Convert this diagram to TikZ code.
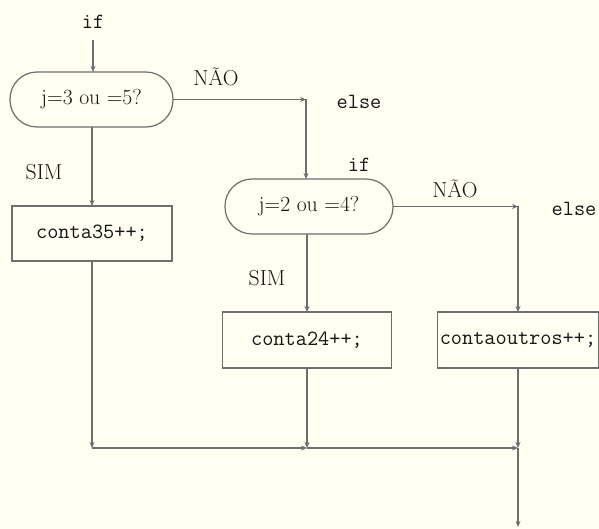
\documentclass[tikz,border=0pt]{standalone}
\usetikzlibrary{arrows.meta}
\definecolor{bg}{HTML}{FFFFF2}
\definecolor{ln}{HTML}{6E6E6E}
\definecolor{tx}{HTML}{151515}
\begin{document}
\begin{tikzpicture}[x=1pt,y=-1pt,
  font=\fontsize{21.7}{26}\selectfont,
  every node/.style={text=tx},
  term/.style={draw=ln, line width=1.2pt, rounded corners=27pt, minimum height=55pt, inner sep=0pt, outer sep=0pt},
  boxnode/.style={draw=ln, line width=1.2pt, minimum height=56pt, inner sep=0pt, outer sep=0pt},
  arr/.style={draw=ln, line width=1.2pt, -{Stealth[length=6pt,width=5pt]}},
  code/.style={font=\fontsize{21.7}{26}\selectfont\ttfamily}]
\fill[bg] (0,0) rectangle (599,529);
\useasboundingbox (0,0) rectangle (599,529);

\node[term, minimum width=163pt] (t1) at (91.5,99.5) {j=3 ou =5?};
\node[term, minimum width=168pt] (t2) at (309,206.5) {j=2 ou =4?};
\node[boxnode, minimum width=160pt, minimum height=55pt] (b1) at (92,233.5) {\ttfamily conta35++;};
\node[boxnode, minimum width=169pt] (b2) at (307,340) {\ttfamily conta24++;};
\node[boxnode, minimum width=161pt] (b3) at (518,340) {\ttfamily contaoutros++;};

\node[code] (if1) at (93,22) {if};
\node (nao1) at (216,77) {NÃO};
\node[code] (else1) at (359,102) {else};
\node (sim1) at (44,172) {SIM};
\node[code] (if2) at (359,165) {if};
\node (nao2) at (455,189) {NÃO};
\node[code] (else2) at (574,209) {else};
\node (sim2) at (267,278) {SIM};

\coordinate (s0) at (93,40);
\coordinate (k1) at (306,99.5);
\coordinate (k2) at (518,206.5);
\coordinate (j1) at (92,448);
\coordinate (j2) at (307,448);
\coordinate (j3) at (518,448);
\coordinate (e) at (518,527);

\draw[arr] (s0) -- (s0 |- t1.north);
\draw[arr] (t1.east) -- (k1);
\draw[arr] (k1) -- (k1 |- t2.north);
\draw[arr] (b1.north |- t1.south) -- (b1.north);
\draw[arr] (t2.east) -- (k2);
\draw[arr] (k2) -- (k2 |- b3.north);
\draw[arr] (b2.north |- t2.south) -- (b2.north);
\draw[arr] (b1.south) -- (j1);
\draw[arr] (j1) -- (j2);
\draw[arr] (b2.south) -- (j2);
\draw[arr] (j2) -- (j3);
\draw[arr] (b3.south) -- (j3);
\draw[arr] (j3) -- (e);
\end{tikzpicture}
\end{document}
